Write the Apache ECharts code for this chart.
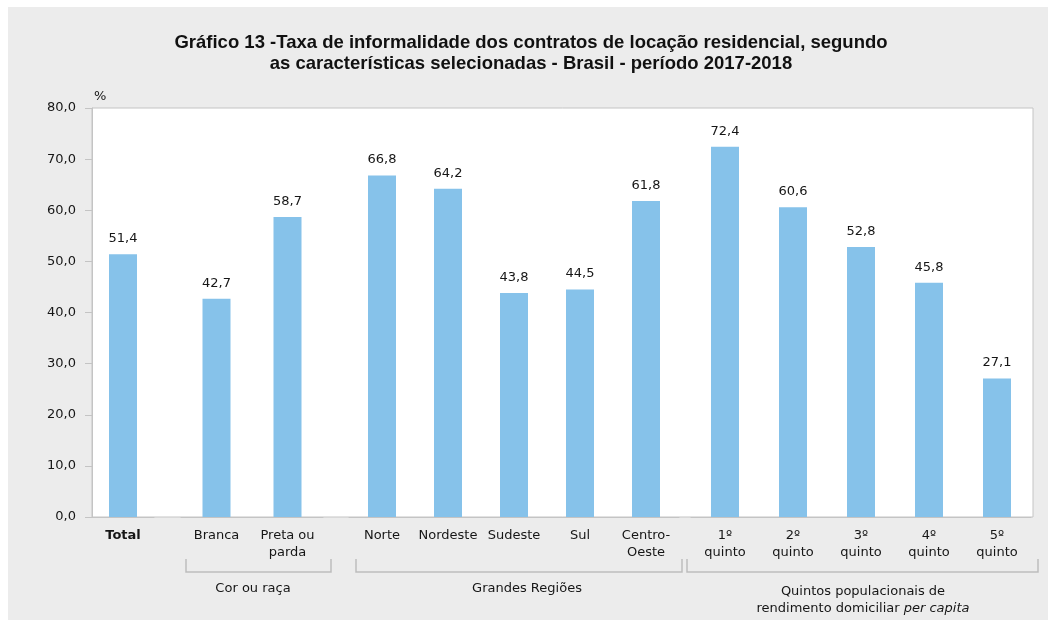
<!DOCTYPE html>
<html>
<head>
<meta charset="utf-8">
<script src="https://cdn.jsdelivr.net/npm/echarts@6/dist/echarts.min.js"></script>
<style>
html,body{margin:0;padding:0;background:#fff;}
#c{width:1048px;height:620px;}
</style>
</head>
<body>
<div id="c"></div>
<script>
// ---- data ----
const totalCats = ['Total'];
const totalVals = [51.4];
const corCats = ['Branca', 'Preta ou\nparda'];
const corVals = [42.7, 58.7];
const regCats = ['Norte', 'Nordeste', 'Sudeste', 'Sul', 'Centro-\nOeste'];
const regVals = [66.8, 64.2, 43.8, 44.5, 61.8];
const quintCats = ['1º\nquinto', '2º\nquinto', '3º\nquinto', '4º\nquinto', '5º\nquinto'];
const quintVals = [72.4, 60.6, 52.8, 45.8, 27.1];
const groupNames = ['Cor ou raça', 'Grandes Regiões', 'Quintos populacionais de\nrendimento domiciliar {i|per capita}'];
const yMin = 0, yMax = 80, yStep = 10;
const titleText = 'Gráfico 13 -Taxa de informalidade dos contratos de locação residencial, segundo\nas características selecionadas - Brasil - período 2017-2018';

// ---- style ----
const FONT = 'DejaVu Sans';
const BAR = '#86c2ea';
const TXT = '#161616';
const GRID_LINE = '#c4c4c4';
const fmt = v => Number(v).toFixed(1).replace('.', ',');

const chart = echarts.init(document.getElementById('c'), null, {renderer: 'canvas'});

const TOP = 108, BOTTOM = 103;
const groups = [
  {cats: totalCats, vals: totalVals, left: 92, width: 62, bold: true},
  {cats: corCats, vals: corVals, left: 181, width: 142},
  {cats: regCats, vals: regVals, left: 349, width: 330},
  {cats: quintCats, vals: quintVals, left: 691, width: 340}
];

const grids = [{left: 92, right: 15, top: TOP, bottom: BOTTOM, show: true,
  backgroundColor: '#fff', borderColor: GRID_LINE, borderWidth: 1,
  containLabel: false, outerBoundsMode: 'none'}];
const xAxes = [{gridIndex: 0, type: 'category', data: [''], show: false}];
const yAxes = [{
  gridIndex: 0, type: 'value', min: yMin, max: yMax, interval: yStep,
  name: '%', nameLocation: 'end', nameGap: 5,
  nameTextStyle: {fontFamily: FONT, fontSize: 13, color: TXT, align: 'left', padding: [0, 0, 0, 2]},
  axisLine: {show: true, lineStyle: {color: GRID_LINE, width: 1}},
  axisTick: {show: true, length: 7, lineStyle: {color: GRID_LINE}},
  splitLine: {show: false},
  axisLabel: {margin: 16, fontFamily: FONT, fontSize: 13, color: TXT, formatter: v => fmt(v)}
}];
const series = [];
groups.forEach((g, i) => {
  const gi = i + 1;
  grids.push({left: g.left, width: g.width, top: TOP, bottom: BOTTOM, containLabel: false, outerBoundsMode: 'none'});
  xAxes.push({
    gridIndex: gi, type: 'category', data: g.cats,
    axisLine: {show: true, lineStyle: {color: GRID_LINE, width: 1}},
    axisTick: {show: false},
    axisLabel: {margin: 10, interval: 0, fontFamily: FONT, fontSize: 13, color: TXT,
      lineHeight: 17, fontWeight: g.bold ? 'bold' : 'normal'}
  });
  yAxes.push({gridIndex: gi, type: 'value', min: yMin, max: yMax, interval: yStep, show: false, splitLine: {show: false}});
  series.push({
    type: 'bar', xAxisIndex: gi, yAxisIndex: gi, data: g.vals, barWidth: 28,
    itemStyle: {color: BAR},
    label: {show: true, position: 'top', distance: 9, fontFamily: FONT, fontSize: 13, color: TXT,
      formatter: p => fmt(p.value)}
  });
});

const option = {
  backgroundColor: '#fff',
  animation: false,
  title: {
    text: titleText, left: 531, top: 32, textAlign: 'center', padding: 0,
    textStyle: {fontFamily: 'Liberation Sans', fontSize: 18.5, fontWeight: 'bold', color: '#111', lineHeight: 21}
  },
  grid: grids, xAxis: xAxes, yAxis: yAxes, series: series,
  graphic: [{type: 'rect', z: -10, silent: true, shape: {x: 8, y: 7, width: 1040, height: 613}, style: {fill: '#ececec'}}]
};
chart.setOption(option);

// group brackets and group labels, placed from the axes' own pixel positions
function bandEdges(gi, n) {
  const a = chart.convertToPixel({xAxisIndex: gi}, 0);
  const b = chart.convertToPixel({xAxisIndex: gi}, n - 1);
  const band = n > 1 ? (b - a) / (n - 1) : 60;
  return [a - band / 2, b + band / 2];
}
const bracketGroups = [[2, corCats.length, 5, 8, 253], [3, regCats.length, 7, 3, 527], [4, quintCats.length, -4, 7, 863]];
const extra = [];
const yTop = 559, yBar = 572;
bracketGroups.forEach((bg, k) => {
  const [gi, n, padL, padR, labX] = bg;
  const [x0, x1] = bandEdges(gi, n);
  const L = x0 + padL, R = x1 + padR;
  extra.push({type: 'polyline', silent: true, shape: {points: [[L, yTop], [L, yBar], [R, yBar], [R, yTop]]},
    style: {stroke: '#bdbdbd', lineWidth: 1.5, fill: null}});
  extra.push({type: 'text', silent: true, x: labX, y: k === 2 ? 600 : 589,
    style: {text: groupNames[k], align: 'center', verticalAlign: 'middle', fontFamily: FONT, fontSize: 13, fill: TXT,
      lineHeight: 17, rich: {i: {fontStyle: 'italic', fontFamily: FONT, fontSize: 13, fill: TXT, lineHeight: 17}}}});
});
chart.setOption({graphic: option.graphic.concat(extra)});
</script>
</body>
</html>
